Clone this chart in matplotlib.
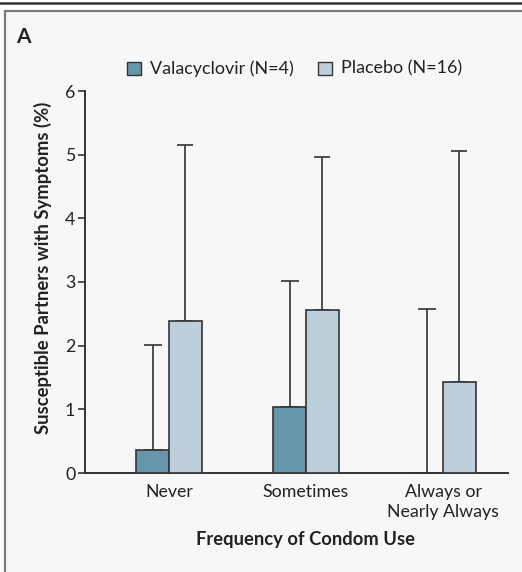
import numpy as np
import matplotlib
matplotlib.use("Agg")
import matplotlib.pyplot as plt
from matplotlib.patches import Rectangle
from matplotlib.lines import Line2D

categories = ["Never", "Sometimes", "Always or\nNearly Always"]
valacyclovir = [0.36, 1.04, 0.0]
valacyclovir_upper = [2.01, 3.01, 2.58]
placebo = [2.39, 2.56, 1.43]
placebo_upper = [5.15, 4.97, 5.06]
legend_labels = ["Valacyclovir (N=4)", "Placebo (N=16)"]

plt.rcParams['font.family'] = ['Lato', 'DejaVu Sans']

fig = plt.figure(figsize=(5.22, 5.72), dpi=100)
fig.patch.set_facecolor("white")

# panel background and rule on top
fig.patches.append(Rectangle((5/522, -0.05), 1.2, 1 - 11/572 + 0.05, transform=fig.transFigure,
                             facecolor="#f7f7f7", edgecolor="#7a7a7a", lw=1.6, zorder=-10))
fig.lines.append(Line2D([0, 1], [1 - 3/572, 1 - 3/572], transform=fig.transFigure,
                        color="#333333", lw=1.8))

ax = fig.add_axes([85/522, 1 - 473/572, (508 - 85)/522, (473 - 91)/572])
ax.set_facecolor("none")

x = np.arange(len(categories))
w = 0.24
c_val = "#6795aa"
c_plc = "#bccfdb"
edge = "#333333"

ax.bar(x - w/2, valacyclovir, w, color=c_val, edgecolor=edge, lw=1.2, zorder=3)
ax.bar(x + w/2, placebo, w, color=c_plc, edgecolor=edge, lw=1.2, zorder=3)

val_err = np.array(valacyclovir_upper) - np.array(valacyclovir)
plc_err = np.array(placebo_upper) - np.array(placebo)
ax.errorbar(x - w/2, valacyclovir, yerr=[np.zeros(3), val_err], fmt="none",
            ecolor=edge, elinewidth=1.2, capsize=6.5, capthick=1.2, zorder=2)
ax.errorbar(x + w/2, placebo, yerr=[np.zeros(3), plc_err], fmt="none",
            ecolor=edge, elinewidth=1.2, capsize=6.0, capthick=1.2, zorder=2)

ax.set_ylim(0, 6)
ax.set_xlim(-0.613, 2.474)
ax.set_yticks(range(7))
ax.set_xticks(x)
ax.set_xticklabels(categories, fontsize=12.8, color="#222222", linespacing=1.3)
ax.tick_params(axis="x", length=0, pad=8)
ax.tick_params(axis="y", length=5, width=1.2, color=edge, labelsize=12.8,
               labelcolor="#222222", pad=2)
for s in ["top", "right"]:
    ax.spines[s].set_visible(False)
for s in ["left", "bottom"]:
    ax.spines[s].set_linewidth(1.4)
    ax.spines[s].set_color(edge)

ax.set_ylabel("Susceptible Partners with Symptoms (%)", fontsize=13.3,
              fontweight="bold", color="#222222")
ax.yaxis.set_label_coords(-0.078, 0.537)

fig.text(306/522, 1 - 540/572, "Frequency of Condom Use", ha="center", va="center",
         fontsize=13.2, fontweight="bold", color="#222222")
fig.text(16/522, 1 - 37/572, "A", ha="left", va="center", fontsize=15,
         fontweight="bold", color="#222222")

# legend
for lx, col, lab in [(127, c_val, legend_labels[0]), (318, c_plc, legend_labels[1])]:
    fig.patches.append(Rectangle((lx/522, 1 - 75/572), 14/522, 13/572,
                                 transform=fig.transFigure, facecolor=col,
                                 edgecolor=edge, lw=1.0))
    fig.text((lx + 23)/522, 1 - 68.5/572, lab, ha="left", va="center",
             fontsize=12.9, color="#222222")

fig.savefig("out.png", dpi=100)
